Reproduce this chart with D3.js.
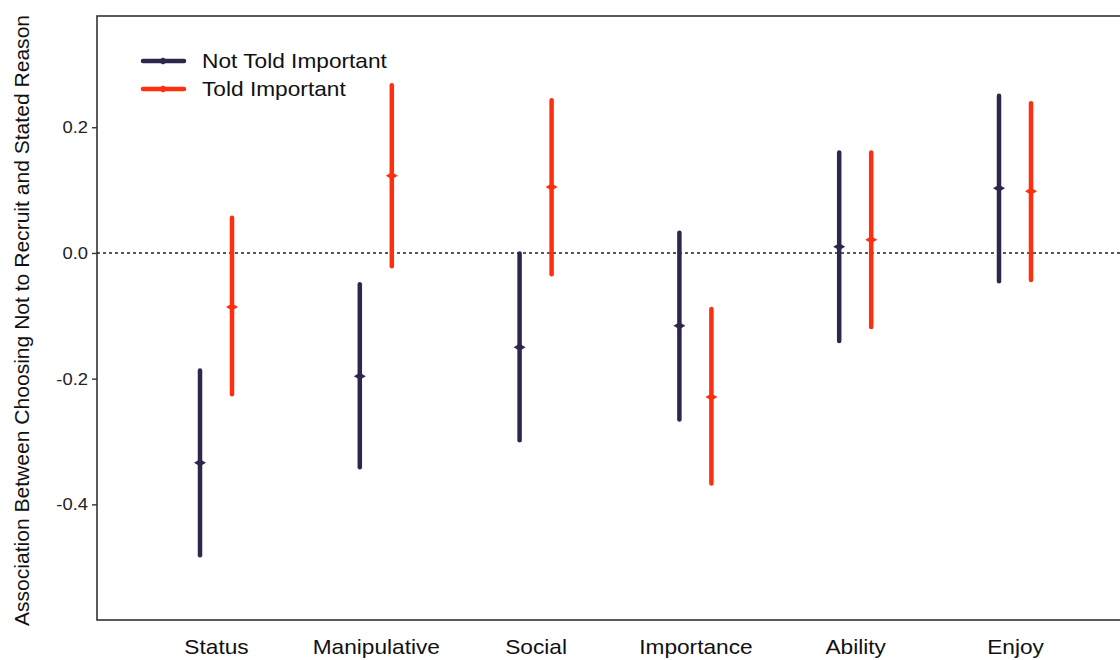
<!DOCTYPE html>
<html>
<head>
<meta charset="utf-8">
<script src="https://cdn.jsdelivr.net/npm/d3@7"></script>
<style>
  html, body { margin: 0; padding: 0; background: #fff; }
  svg { display: block; font-family: "Liberation Sans", Arial, sans-serif; }
</style>
</head>
<body>
<svg id="chart" width="1120" height="660"></svg>
<script>
// Reasons shown along the x axis
const categories = ["Status", "Manipulative", "Social", "Importance", "Ability", "Enjoy"];
const groups = ["Not Told Important", "Told Important"];

// Point estimates and 95% interval bounds, one entry per category
const notToldEst   = [-0.334, -0.196, -0.150, -0.116, 0.010, 0.103];
const notToldLow   = [-0.481, -0.341, -0.298, -0.265, -0.140, -0.045];
const notToldHigh  = [-0.187, -0.050, -0.001, 0.032, 0.160, 0.250];

const toldEst      = [-0.086, 0.123, 0.105, -0.229, 0.021, 0.098];
const toldLow      = [-0.225, -0.021, -0.034, -0.367, -0.118, -0.043];
const toldHigh     = [0.056, 0.267, 0.243, -0.089, 0.160, 0.238];

const yTicks = [-0.4, -0.2, 0.0, 0.2];
const yTickLabels = ["-0.4", "-0.2", "0.0", "0.2"];

const colors = { "Not Told Important": "#30264b", "Told Important": "#fd2f0f" };

const series = [
  { name: groups[0], est: notToldEst, low: notToldLow, high: notToldHigh, offset: -1 },
  { name: groups[1], est: toldEst, low: toldLow, high: toldHigh, offset: 1 }
];

const svg = d3.select("#chart");
const margin = { left: 97, top: 16, bottom: 620, right: 1134 };

// Text is drawn a little wide, so each label is stretched along its run
const widen = 1.08;
function stretch(sel) {
  sel.each(function () {
    const w = this.getComputedTextLength();
    d3.select(this).attr("textLength", w * widen).attr("lengthAdjust", "spacingAndGlyphs");
  });
}

const y = d3.scaleLinear().domain([-0.584, 0.377]).range([margin.bottom, margin.top]);
const x = d3.scalePoint().domain(categories)
  .range([margin.left + 119, margin.right - 119]);
const dodge = 16;

// Panel border
svg.append("rect")
  .attr("x", margin.left).attr("y", margin.top)
  .attr("width", margin.right - margin.left)
  .attr("height", margin.bottom - margin.top)
  .attr("fill", "none").attr("stroke", "#333").attr("stroke-width", 1.6);

// Reference line at zero
svg.append("line")
  .attr("x1", margin.left).attr("x2", margin.right)
  .attr("y1", y(0)).attr("y2", y(0))
  .attr("stroke", "#222").attr("stroke-width", 1.4)
  .attr("stroke-dasharray", "3,3");

// Y axis
const yAxis = d3.axisLeft(y)
  .tickValues(yTicks)
  .tickFormat((d, i) => yTickLabels[i])
  .tickSize(5).tickPadding(4);
const ya = svg.append("g").attr("transform", `translate(${margin.left},0)`).call(yAxis);
ya.select(".domain").remove();
ya.selectAll(".tick line").attr("stroke", "#333").attr("stroke-width", 1.4);
ya.selectAll(".tick text").attr("fill", "#222").style("font-size", "17px").call(stretch);

// X axis labels
const xAxis = d3.axisBottom(x).tickSize(0).tickPadding(19);
const xa = svg.append("g").attr("transform", `translate(0,${margin.bottom})`).call(xAxis);
xa.select(".domain").remove();
xa.selectAll(".tick text").attr("fill", "#111").style("font-size", "21px").call(stretch);

// Y axis title
svg.append("text")
  .attr("transform", `translate(29,${(margin.top + 625) / 2}) rotate(-90)`)
  .attr("text-anchor", "middle")
  .attr("fill", "#111")
  .style("font-size", "19.5px")
  .text("Association Between Choosing Not to Recruit and Stated Reason")
  .call(stretch);

// Interval ranges and point markers
const diamond = (cx, cy, w, h) =>
  `M${cx - w / 2},${cy} L${cx},${cy - h / 2} L${cx + w / 2},${cy} L${cx},${cy + h / 2} Z`;

series.forEach(s => {
  const g = svg.append("g");
  const rows = categories.map((c, i) => ({ c, est: s.est[i], low: s.low[i], high: s.high[i] }));
  g.selectAll("line.range").data(rows).join("line")
    .attr("class", "range")
    .attr("x1", d => x(d.c) + s.offset * dodge)
    .attr("x2", d => x(d.c) + s.offset * dodge)
    .attr("y1", d => y(d.low)).attr("y2", d => y(d.high))
    .attr("stroke", colors[s.name]).attr("stroke-width", 4.5)
    .attr("stroke-linecap", "round");
  g.selectAll("path.pt").data(rows).join("path")
    .attr("class", "pt")
    .attr("d", d => diamond(x(d.c) + s.offset * dodge, y(d.est), 12, 7))
    .attr("fill", colors[s.name]);
});

// Legend
const legend = svg.append("g");
groups.forEach((gname, i) => {
  const ly = 61 + i * 28;
  legend.append("line")
    .attr("x1", 143).attr("x2", 184).attr("y1", ly).attr("y2", ly)
    .attr("stroke", colors[gname]).attr("stroke-width", 4.5)
    .attr("stroke-linecap", "round");
  legend.append("path").attr("d", diamond(163, ly, 12, 7)).attr("fill", colors[gname]);
  legend.append("text")
    .attr("x", 202).attr("y", ly).attr("dy", "0.35em")
    .attr("fill", "#111").style("font-size", "21px")
    .text(gname)
    .call(stretch);
});
</script>
</body>
</html>
